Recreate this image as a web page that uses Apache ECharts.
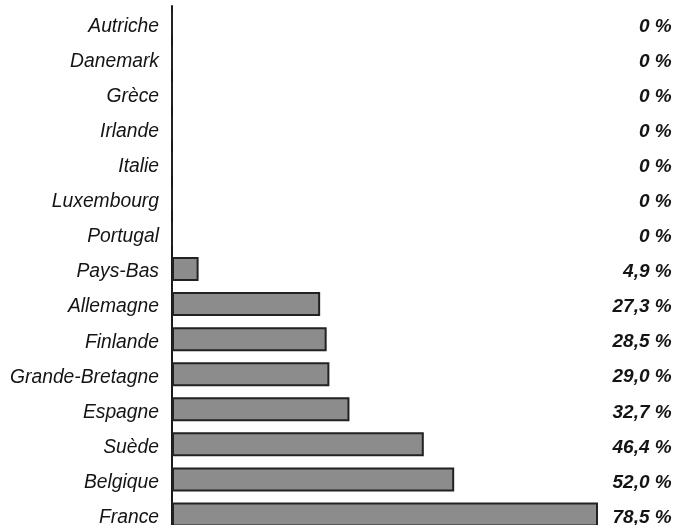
<!DOCTYPE html>
<html>
<head>
<meta charset="utf-8">
<script src="https://cdn.jsdelivr.net/npm/echarts@6/dist/echarts.min.js"></script>
<style>
  html, body { margin: 0; padding: 0; background: #fff; overflow: hidden; }
  #chart { width: 700px; height: 560px; }
</style>
</head>
<body>
<div id="chart"></div>
<script>
// Countries, top to bottom
const countries = [
  'Autriche', 'Danemark', 'Grèce', 'Irlande', 'Italie', 'Luxembourg', 'Portugal',
  'Pays-Bas', 'Allemagne', 'Finlande', 'Grande-Bretagne', 'Espagne', 'Suède',
  'Belgique', 'France'
];
// Share in percent
const shares = [0, 0, 0, 0, 0, 0, 0, 4.9, 27.3, 28.5, 29.0, 32.7, 46.4, 52.0, 78.5];

const shareText = shares.map(v => (v === 0 ? '0' : v.toFixed(1).replace('.', ',')) + ' %');

const chart = echarts.init(document.getElementById('chart'));
const font = 'Arial, "Liberation Sans", sans-serif';

// Label text sits a touch below the bar centre
const nameStyle = {
  fontFamily: font, fontStyle: 'italic', fontSize: 19.3, color: '#141414',
  padding: [6, 0, 0, 0]
};
const valueStyle = {
  fontFamily: font, fontStyle: 'italic', fontWeight: 'bold', fontSize: 19,
  color: '#141414', padding: [6, 0, 0, 0]
};

chart.setOption({
  animation: false,
  backgroundColor: '#ffffff',
  grid: { left: 172, top: 6, width: 504.7, height: 526, containLabel: false },
  xAxis: {
    type: 'value', min: 0, max: 93,
    show: false
  },
  yAxis: [
    {
      type: 'category', data: countries, inverse: true,
      axisLine: { show: true, lineStyle: { color: '#1a1a1a', width: 2 } },
      axisTick: { show: false },
      axisLabel: {
        margin: 13, formatter: '{n|{value}}', rich: { n: nameStyle }
      }
    },
    {
      type: 'category', data: shareText, inverse: true, position: 'right',
      axisLine: { show: false }, axisTick: { show: false },
      axisLabel: {
        inside: true, margin: 5, formatter: '{v|{value}}', rich: { v: valueStyle }
      }
    }
  ],
  series: [{
    type: 'bar', data: shares, barWidth: 24, yAxisIndex: 0,
    itemStyle: { color: '#8c8c8c', borderColor: '#222222', borderWidth: 2 }
  }]
});
</script>
</body>
</html>
